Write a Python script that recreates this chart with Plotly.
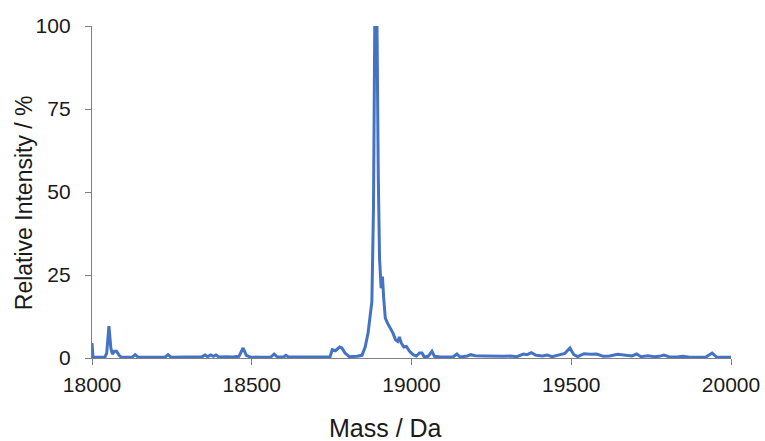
import plotly.graph_objects as go

mass = [18000, 18003, 18040, 18046, 18053, 18059, 18064, 18070, 18077, 18085, 18092,
        18125, 18135, 18145, 18228, 18238, 18248, 18300, 18330, 18345, 18354, 18362,
        18372, 18380, 18388, 18397, 18420, 18440, 18460, 18473, 18483, 18495, 18530,
        18560, 18570, 18580, 18600, 18607, 18615, 18650, 18700, 18745, 18752, 18762,
        18775, 18782, 18792, 18805, 18830, 18845, 18855, 18864, 18876, 18881, 18885,
        18892, 18896, 18900, 18905, 18909, 18913, 18918, 18925, 18935, 18942, 18950,
        18957, 18962, 18968, 18976, 18984, 18994, 19005, 19015, 19025, 19033, 19040,
        19052, 19064, 19072, 19090, 19130, 19142, 19152, 19175, 19185, 19200, 19230,
        19260, 19290, 19310, 19330, 19350, 19362, 19375, 19390, 19410, 19425, 19440,
        19460, 19480, 19496, 19508, 19520, 19540, 19560, 19580, 19600, 19620, 19645,
        19665, 19690, 19705, 19718, 19740, 19760, 19775, 19790, 19805, 19830, 19850,
        19870, 19920, 19941, 19955, 20000]
intensity = [4.5, 0.3, 0.2, 1.5, 9.6, 3.0, 1.2, 2.0, 2.0, 0.8, 0.2,
             0.2, 1.0, 0.2, 0.2, 1.0, 0.2, 0.3, 0.2, 0.4, 0.9, 0.4,
             0.9, 0.5, 0.9, 0.3, 0.4, 0.3, 0.5, 3.0, 0.8, 0.3, 0.2,
             0.3, 1.2, 0.3, 0.3, 0.8, 0.3, 0.3, 0.2, 0.3, 2.5, 2.2,
             3.3, 3.0, 1.5, 0.4, 0.5, 0.8, 3.3, 7.5, 17, 45, 100,
             100, 55, 30, 21, 24.5, 18, 12, 10.5, 8.8, 7.5, 5.5,
             5.0, 6.3, 4.5, 3.3, 3.5, 2.0, 1.0, 0.6, 1.5, 1.5, 0.3,
             0.5, 2.0, 0.5, 0.3, 0.3, 1.2, 0.3, 0.6, 1.0, 0.7, 0.6,
             0.5, 0.5, 0.6, 0.4, 1.2, 1.0, 1.6, 0.8, 0.6, 0.9, 0.4,
             1.0, 1.4, 3.0, 1.0, 0.4, 1.3, 1.1, 1.2, 0.5, 0.6, 1.1,
             0.8, 0.6, 1.2, 0.4, 0.7, 0.4, 0.5, 0.9, 0.4, 0.3, 0.5,
             0.2, 0.2, 1.5, 0.3, 0.2]

x_ticks = [18000, 18500, 19000, 19500, 20000]
y_ticks = [0, 25, 50, 75, 100]

FONT = "Liberation Sans, Arial, sans-serif"

fig = go.Figure()
fig.add_trace(go.Scatter(x=mass, y=intensity, mode="lines",
                         line=dict(color="#4472C4", width=3), hoverinfo="skip",
                         cliponaxis=False))

axis_common = dict(showline=True, linecolor="#808080", linewidth=1.3,
                   ticks="outside", ticklen=6, tickcolor="#808080", tickwidth=1.3,
                   showgrid=False, zeroline=False, automargin=False,
                   tickfont=dict(family=FONT, size=21, color="#1a1a1a"))

fig.update_layout(
    width=765, height=441,
    margin=dict(l=92, r=34, t=26, b=83),
    paper_bgcolor="white", plot_bgcolor="white",
    showlegend=False,
    xaxis=dict(range=[18000, 20000], tickvals=x_ticks,
               ticktext=[str(v) for v in x_ticks], ticklabelstandoff=2, **axis_common),
    yaxis=dict(range=[0, 100], tickvals=y_ticks,
               ticktext=[str(v) for v in y_ticks], ticklabelstandoff=10, **axis_common),
    annotations=[
        dict(text="Mass / Da", xref="paper", yref="paper", x=0.46, y=-0.211,
             xanchor="center", yanchor="middle", showarrow=False,
             font=dict(family=FONT, size=25, color="#1a1a1a")),
        dict(text="Relative Intensity / %", xref="paper", yref="paper", x=-0.106, y=0.467,
             xanchor="center", yanchor="middle", showarrow=False, textangle=-90,
             font=dict(family=FONT, size=23, color="#1a1a1a")),
    ],
)

fig.write_html("out.html")
